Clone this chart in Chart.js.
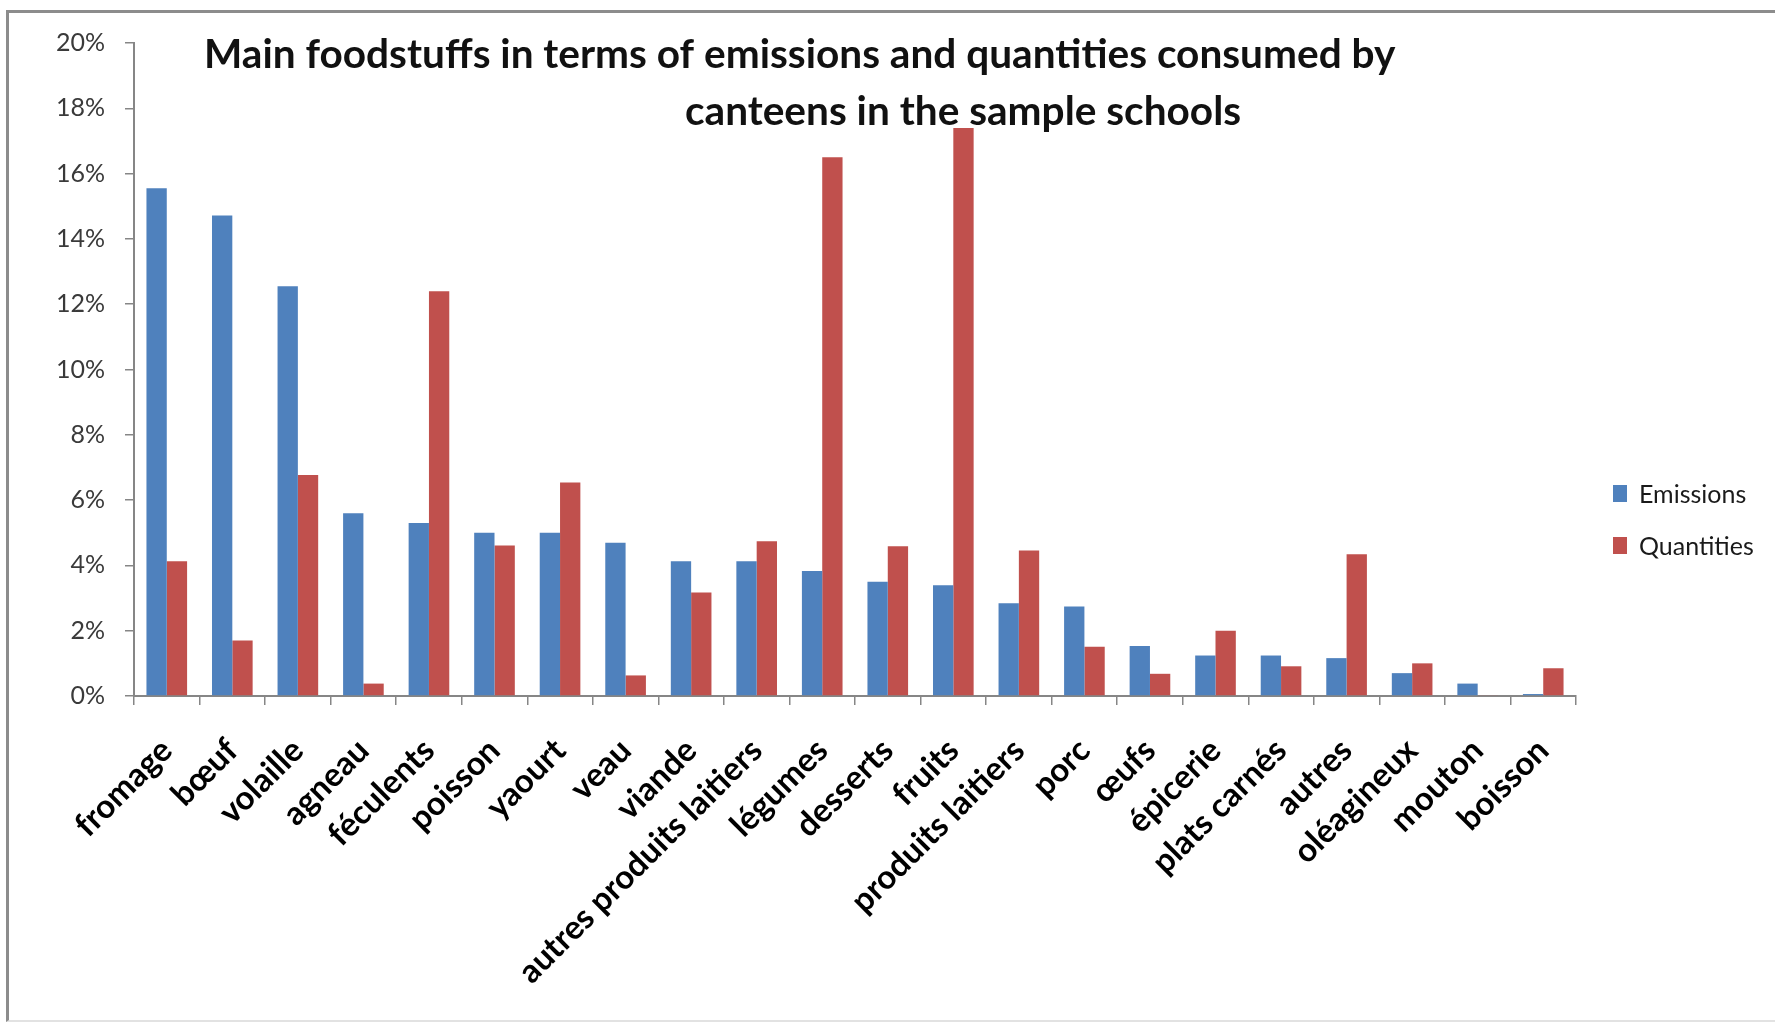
<!DOCTYPE html>
<html lang="en">
    <head>
        <meta charset="UTF-8" />
        <title>Main foodstuffs - emissions and quantities</title>
        <script src="https://cdn.jsdelivr.net/npm/chart.js"></script>
        <style>
            body {
                margin: 0;
                background: #fff;
                font-family: Lato, sans-serif;
            }

            #wrap {
                position: relative;
                width: 1775px;
                height: 1022px;
                overflow: hidden;
            }

            #frame {
                position: absolute;
                left: 6px;
                top: 10px;
                width: 1800px;
                height: 1007px;
                border-top: 3px solid #8c8c8c;
                border-left: 3px solid #8c8c8c;
                border-bottom: 2px solid #e2e2e2;
            }

            #legend {
                position: absolute;
                left: 1613px;
                top: 480px;
                font-size: 25px;
                color: #1a1a1a;
            }

            .item {
                display: flex;
                align-items: center;
                height: 26px;
                margin-bottom: 26px;
            }

            .box {
                width: 14px;
                height: 17px;
                margin-right: 12px;
            }
        </style>
    </head>
    <body>
        <div id="wrap">
            <div id="frame"></div>
            <canvas id="foodChart"></canvas>
            <div id="legend"></div>
        </div>

        <script>
            const categories = [
                'fromage', 'bœuf', 'volaille', 'agneau', 'féculents', 'poisson',
                'yaourt', 'veau', 'viande', 'autres produits laitiers', 'légumes',
                'desserts', 'fruits', 'produits laitiers', 'porc', 'œufs',
                'épicerie', 'plats carnés', 'autres', 'oléagineux', 'mouton', 'boisson'
            ];

            const emissions = [
                15.55, 14.72, 12.55, 5.6, 5.3, 5.0, 5.0, 4.69, 4.13, 4.13, 3.83,
                3.5, 3.39, 2.84, 2.74, 1.53, 1.24, 1.24, 1.16, 0.7, 0.38, 0.06
            ];

            const quantities = [
                4.13, 1.7, 6.77, 0.38, 12.4, 4.61, 6.54, 0.63, 3.17, 4.74, 16.5,
                4.59, 17.4, 4.46, 1.51, 0.68, 2.0, 0.91, 4.34, 1.0, 0.02, 0.85
            ];

            const yTicks = [0, 2, 4, 6, 8, 10, 12, 14, 16, 18, 20];

            const seriesNames = ['Emissions', 'Quantities'];
            const seriesColors = ['#4f81bd', '#c0504d'];

            const titleLines = [
                'Main foodstuffs in terms of emissions and quantities consumed by',
                'canteens in the sample schools'
            ];

            // the title sits inside the plot, as in the original sheet
            const titlePlugin = {
                id: 'insideTitle',
                afterDraw(chart) {
                    const ctx = chart.ctx;
                    ctx.save();
                    ctx.font = 'bold 40px Lato';
                    const w = ctx.measureText(titleLines[0]).width;
                    const size = (40 * 1192) / w;
                    ctx.font = `bold ${size}px Lato`;
                    ctx.fillStyle = '#111';
                    ctx.textBaseline = 'middle';
                    ctx.fillText(titleLines[0], 204, 55);
                    ctx.fillText(titleLines[1], 685, 112);
                    ctx.restore();
                }
            };

            const legend = document.getElementById('legend');
            seriesNames.forEach((name, i) => {
                const item = document.createElement('div');
                item.className = 'item';
                item.innerHTML = `<span class="box" style="background:${seriesColors[i]}"></span>${name}`;
                legend.appendChild(item);
            });

            const ctx = document.getElementById('foodChart').getContext('2d');

            new Chart(ctx, {
                type: 'bar',
                data: {
                    labels: categories,
                    datasets: [
                        {
                            label: seriesNames[0],
                            data: emissions,
                            backgroundColor: seriesColors[0],
                        },
                        {
                            label: seriesNames[1],
                            data: quantities,
                            backgroundColor: seriesColors[1],
                        },
                    ],
                },
                options: {
                    responsive: true,
                    maintainAspectRatio: false,
                    animation: false,
                    layout: {
                        padding: { left: 14, right: 199, top: 43, bottom: 0 },
                    },
                    datasets: {
                        bar: {
                            categoryPercentage: 0.62,
                            barPercentage: 1.0,
                        },
                    },
                    plugins: {
                        legend: { display: false },
                        title: { display: false },
                        tooltip: { enabled: false },
                    },
                    scales: {
                        x: {
                            afterFit: (s) => {
                                s.height = 326;
                            },
                            grid: {
                                offset: true,
                                drawOnChartArea: false,
                                tickLength: 9,
                                color: '#868686',
                                lineWidth: 1.5,
                            },
                            border: { color: '#868686', width: 2 },
                            ticks: {
                                minRotation: 45,
                                maxRotation: 45,
                                autoSkip: false,
                                padding: 26,
                                color: '#000',
                                font: { family: 'Lato', size: 33, weight: 'bold' },
                            },
                        },
                        y: {
                            min: 0,
                            max: 20,
                            afterFit: (s) => {
                                s.width = 120;
                            },
                            afterBuildTicks: (s) => {
                                s.ticks = yTicks.map((v) => ({ value: v }));
                            },
                            grid: {
                                drawOnChartArea: false,
                                tickLength: 9,
                                color: '#868686',
                                lineWidth: 1.5,
                            },
                            border: { color: '#868686', width: 2 },
                            ticks: {
                                padding: 20,
                                color: '#3a3a3a',
                                font: { family: 'Lato', size: 25 },
                                callback: (v) => v + '%',
                            },
                        },
                    },
                },
                plugins: [titlePlugin],
            });
        </script>
    </body>
</html>
